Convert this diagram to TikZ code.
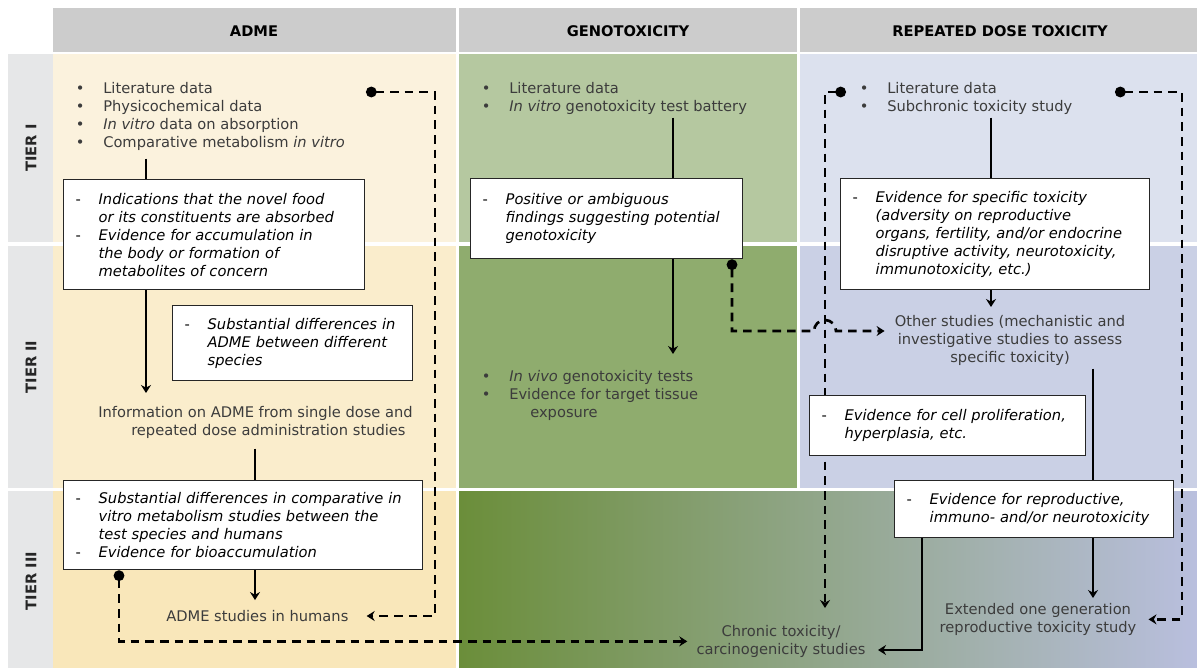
\documentclass[tikz,border=0pt]{standalone}
\usepackage{fontspec}
\setmainfont{DejaVu Sans}
\usetikzlibrary{arrows.meta}

\newdimen\pxu
\pxu=0.75pt
\newcommand{\bodyfont}{\fontsize{11}{13.5}\selectfont}
\newcommand{\bul}{\makebox[46\pxu]{\textbullet}}
\newcommand{\dsh}{\makebox[23\pxu][l]{\upshape -}}
\newcommand{\ind}{\hspace*{23\pxu}}

\definecolor{hdrgray}{RGB}{204,204,204}
\definecolor{tiergray}{RGB}{230,231,232}
\definecolor{admeone}{RGB}{251,242,221}
\definecolor{admetwo}{RGB}{250,237,204}
\definecolor{admethree}{RGB}{249,231,186}
\definecolor{genone}{RGB}{181,200,160}
\definecolor{gentwo}{RGB}{143,172,110}
\definecolor{rdtone}{RGB}{220,225,238}
\definecolor{rdttwo}{RGB}{202,208,229}
\definecolor{gradl}{RGB}{107,142,58}
\definecolor{gradr}{RGB}{185,191,222}
\definecolor{txtgray}{RGB}{60,60,60}

\pgfdeclarelayer{bg}
\pgfdeclarelayer{links}
\pgfsetlayers{bg,links,main}

\tikzset{
  hdr/.style={font=\bodyfont\bfseries, text=black},
  tierlbl/.style={font=\bodyfont\bfseries, text=black!85, rotate=90},
  txt/.style={inner sep=0pt, text=txtgray, align=left, font=\bodyfont},
  evbox/.style={draw=black!85, line width=1pt, fill=white, anchor=north west, inner xsep=12\pxu, inner ysep=0pt, align=left, font=\bodyfont\itshape, text=black},
  link/.style={line width=2pt},
  arr/.style={-{Stealth[length=6pt,width=7.5pt,inset=2pt]}},
  dashlink/.style={line width=2pt, dash pattern=on 6.5pt off 4.5pt, {Circle[length=8pt]}-{Stealth[length=6pt,width=7.5pt,inset=2pt]}},
}

\begin{document}
\begin{tikzpicture}[x=0.75pt,y=0.75pt,yscale=-1,xscale=1]
\useasboundingbox (0,0) rectangle (1197,668);

\begin{pgfonlayer}{bg}
% header cells
\fill[hdrgray] (53,8) rectangle (456,52);
\fill[hdrgray] (459,8) rectangle (797,52);
\fill[hdrgray] (800,8) rectangle (1197,52);
% tier cells
\fill[tiergray] (8,54) rectangle (53,242);
\fill[tiergray] (8,246) rectangle (53,488);
\fill[tiergray] (8,491) rectangle (53,668);
% ADME column
\fill[admeone] (53,54) rectangle (456,242);
\fill[admetwo] (53,246) rectangle (456,488);
\fill[admethree] (53,491) rectangle (456,668);
% genotoxicity column
\fill[genone] (459,54) rectangle (797,242);
\fill[gentwo] (459,246) rectangle (797,488);
% repeated dose column
\fill[rdtone] (800,54) rectangle (1197,242);
\fill[rdttwo] (800,246) rectangle (1197,488);
% tier III across genotoxicity and repeated dose
\shade[left color=gradl, right color=gradr] (459,491) rectangle (1197,668);
\end{pgfonlayer}

% Headers
\node[hdr] (hadme) at (254,31) {ADME};
\node[hdr] (hgen) at (628,31) {GENOTOXICITY};
\node[hdr] (hrdt) at (1000,31) {REPEATED DOSE TOXICITY};
\node[tierlbl] (tierI) at (31,148) {TIER I};
\node[tierlbl] (tierII) at (31,367) {TIER II};
\node[tierlbl] (tierIII) at (31,581) {TIER III};

% ADME
\node[txt, anchor=north west] (admelist) at (57,82) {\bul Literature data\\\bul Physicochemical data\\\bul \textit{In vitro} data on absorption\\\bul Comparative metabolism \textit{in vitro}};
\node[evbox, text width=277\pxu, minimum height=110\pxu] (admebI) at (63,179) {\dsh Indications that the novel food\\\ind or its constituents are absorbed\\\dsh Evidence for accumulation in\\\ind the body or formation of\\\ind metabolites of concern};
\node[evbox, text width=216\pxu, minimum height=75\pxu] (admebII) at (172,305) {\dsh Substantial differences in\\\ind ADME between different\\\ind species};
\node[txt, anchor=north west] (admeinfo) at (98,406) {Information on ADME from single dose and\\\hspace*{33\pxu}repeated dose administration studies};
\node[evbox, text width=335\pxu, minimum height=89\pxu] (admebIII) at (63,480) {\dsh Substantial differences in comparative in\\\ind vitro metabolism studies between the\\\ind test species and humans\\\dsh Evidence for bioaccumulation};
\node[txt, anchor=west] (admehum) at (166,616) {ADME studies in humans};

% Genotoxicity
\node[txt, anchor=north west] (genIlist) at (463,82) {\bul Literature data\\\bul \textit{In vitro} genotoxicity test battery};
\node[evbox, text width=248\pxu, minimum height=80\pxu] (genbI) at (470,178) {\dsh Positive or ambiguous\\\ind findings suggesting potential\\\ind genotoxicity};
\node[txt, anchor=north west] (genIIlist) at (463,370) {\bul \textit{In vivo} genotoxicity tests\\\bul Evidence for target tissue\\\hspace*{67\pxu}exposure};

% Repeated dose toxicity
\node[txt, anchor=north west] (rdtlist) at (841,82) {\bul Literature data\\\bul Subchronic toxicity study};
\node[evbox, text width=285\pxu, minimum height=111\pxu] (rdtbI) at (840,178) {\dsh Evidence for specific toxicity\\\ind (adversity on reproductive\\\ind organs, fertility, and/or endocrine\\\ind disruptive activity, neurotoxicity,\\\ind immunotoxicity, etc.)};
\node[txt, anchor=north, align=center] (rdtother) at (1010,315) {Other studies (mechanistic and\\investigative studies to assess\\specific toxicity)};
\node[evbox, text width=252\pxu, minimum height=60\pxu] (rdtbII) at (809,395) {\dsh Evidence for cell proliferation,\\\ind hyperplasia, etc.};
\node[evbox, text width=255\pxu, minimum height=57\pxu] (rdtbIII) at (894,480) {\dsh Evidence for reproductive,\\\ind immuno- and/or neurotoxicity};
\node[txt, anchor=north, align=center] (rdtext) at (1038,603) {Extended one generation\\reproductive toxicity study};
\node[txt, anchor=north, align=center] (chronic) at (781,625) {Chronic toxicity/\\carcinogenicity studies};

% line positions and bends
\coordinate (xa) at (146,0);
\coordinate (xb) at (255,0);
\coordinate (xe) at (119,0);
\coordinate (xg) at (673,0);
\coordinate (xf) at (732,0);
\coordinate (xr) at (991,0);
\coordinate (xs) at (1093,0);
\coordinate (xc) at (922,0);
\coordinate (cC) at (878,650);
\coordinate (dA) at (366,92);
\coordinate (bA) at (435,92);
\coordinate (hop) at (814,331);
\coordinate (dD) at (846,92);
\coordinate (bD) at (825,92);
\coordinate (dE) at (1115,92);
\coordinate (bE) at (1182,92);

\begin{pgfonlayer}{links}
% solid connectors
\draw[link, shorten <=8\pxu] (admelist.south -| xa) -- (admebI.north -| xa);
\draw[link, arr, shorten >=13\pxu] (admebI.south -| xa) -- (admeinfo.north -| xa);
\draw[link, shorten <=10\pxu] (admeinfo.south -| xb) -- (admebIII.north -| xb);
\draw[link, arr, shorten >=10\pxu] (admebIII.south -| xb) -- (admehum.north -| xb);
\draw[link, shorten <=3\pxu] (genIlist.south -| xg) -- (genbI.north -| xg);
\draw[link, arr, shorten >=16\pxu] (genbI.south -| xg) -- (genIIlist.north -| xg);
\draw[link, shorten <=3\pxu] (rdtlist.south -| xr) -- (rdtbI.north -| xr);
\draw[link, arr, shorten >=8\pxu] (rdtbI.south -| xr) -- (rdtother.north -| xr);
\draw[link, shorten <=3\pxu] (rdtother.south -| xs) -- (rdtbIII.north -| xs);
\draw[link, arr, shorten >=5\pxu] (rdtbIII.south -| xs) -- (rdtext.north -| xs);
\draw[link, arr] (rdtbIII.south -| xc) |- (cC);
% dashed connectors
\draw[dashlink, shorten >=18\pxu] (dA) -- (bA) |- (admehum.east);
\draw[dashlink, shorten >=9\pxu] (admebIII.south -| xe) |- (chronic.west);
\draw[dashlink, shorten >=10\pxu] (genbI.south -| xf) |- (hop) arc[start angle=180, end angle=360, radius=11] -- (rdtother.west |- hop);
\draw[dashlink, shorten >=17\pxu] (dD) -- (bD) -- (chronic.north -| bD);
\draw[dashlink, shorten >=12\pxu] (dE) -- (bE) |- (rdtext.east);
\end{pgfonlayer}

\end{tikzpicture}
\end{document}
